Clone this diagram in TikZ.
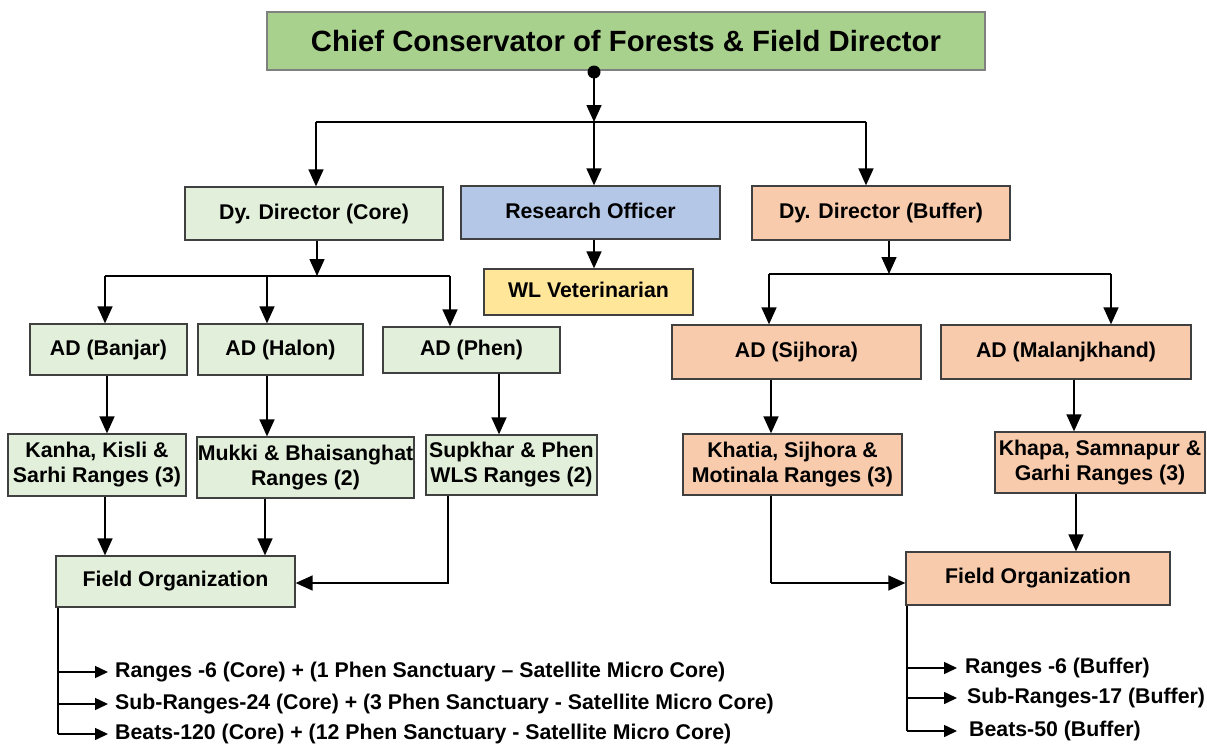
\documentclass[tikz,border=0pt]{standalone}
\usepackage{fontspec}
\setmainfont{Liberation Sans}
\usetikzlibrary{arrows.meta}
\definecolor{titlegreen}{HTML}{A9D18E}
\definecolor{lgreen}{HTML}{E2EFDA}
\definecolor{lblue}{HTML}{B4C7E7}
\definecolor{peach}{HTML}{F8CBAD}
\definecolor{lyellow}{HTML}{FFE699}
\definecolor{bordergray}{HTML}{404040}
\tikzset{
  box/.style={draw=bordergray, line width=1.3pt, inner sep=0pt, align=center,
    font=\fontsize{21.3}{25}\selectfont\bfseries},
  gbox/.style={box, fill=lgreen},
  pbox/.style={box, fill=peach},
  conn/.style={line width=1.5pt, black},
  arr/.style={conn, -{Triangle[length=17pt,width=15pt]}},
  sarr/.style={conn, -{Triangle[length=13pt,width=12pt]}},
  listtext/.style={anchor=west, inner sep=0pt, font=\fontsize{21.3}{25}\selectfont\bfseries}
}
\begin{document}
\begin{tikzpicture}[x=1pt,y=-1pt]
\useasboundingbox (0,0) rectangle (1207,744);
% boxes
\node[box, fill=titlegreen, draw=gray, minimum width=718pt, minimum height=58pt,
      font=\fontsize{29.3}{32}\selectfont\bfseries] (title) at (626,41) {Chief Conservator of Forests \& Field Director};
\node[gbox, minimum width=258pt, minimum height=53pt] (dyc) at (314,213.5) {Dy. Director (Core)};
\node[box, fill=lblue, minimum width=259pt, minimum height=53pt] (ro) at (590.5,212.5) {\raisebox{4pt}{Research Officer}};
\node[pbox, minimum width=258pt, minimum height=54pt] (dyb) at (881,213) {Dy. Director (Buffer)};
\node[box, fill=lyellow, minimum width=209pt, minimum height=46pt] (wl) at (588.5,292) {\raisebox{4pt}{WL Veterinarian}};
\node[gbox, minimum width=157pt, minimum height=51pt] (adb) at (108.5,349.5) {AD (Banjar)};
\node[gbox, minimum width=165pt, minimum height=51pt] (adh) at (280.5,349.5) {AD (Halon)};
\node[gbox, minimum width=177pt, minimum height=46pt] (adp) at (471.5,350) {AD (Phen)};
\node[gbox, minimum width=178pt, minimum height=62pt] (kanha) at (97,465) {Kanha, Kisli \&\\Sarhi Ranges (3)};
\node[gbox, minimum width=217pt, minimum height=61pt] (mukki) at (305.5,467.5) {Mukki \& Bhaisanghat\\Ranges (2)};
\node[gbox, minimum width=171pt, minimum height=60pt] (supk) at (511.5,465) {Supkhar \& Phen\\WLS Ranges (2)};
\node[gbox, minimum width=239pt, minimum height=51pt] (fol) at (175.5,581.5) {Field Organization};
\node[pbox, minimum width=249pt, minimum height=54pt] (ads) at (796.5,352) {AD (Sijhora)};
\node[pbox, minimum width=250pt, minimum height=54pt] (adm) at (1066,352) {AD (Malanjkhand)};
\node[pbox, minimum width=219pt, minimum height=61pt] (khatia) at (792.5,464.5) {Khatia, Sijhora \&\\Motinala Ranges (3)};
\node[pbox, minimum width=210pt, minimum height=61pt] (khapa) at (1100,462.5) {Khapa, Samnapur \&\\Garhi Ranges (3)};
\node[pbox, minimum width=264pt, minimum height=53pt] (for) at (1038,578.5) {\raisebox{4pt}{Field Organization}};
% top connectors
\node[circle, fill=black, inner sep=0pt, minimum size=13pt] (dot) at (594,72) {};
\coordinate (t1) at (316,122);
\coordinate (t2) at (594,122);
\coordinate (t3) at (866,122);
\draw[arr] (dot.center) -- (t2);
\draw[conn] (t1) -- (t3);
\draw[arr] (t1) -- (t1 |- dyc.north);
\draw[arr] (t2) -- (t2 |- ro.north);
\draw[arr] (t3) -- (t3 |- dyb.north);
\draw[arr] (ro.south -| t2) -- (t2 |- wl.north);
% core branch
\coordinate (c0) at (317,276);
\coordinate (c1) at (105,276);
\coordinate (c2) at (267,276);
\coordinate (c3) at (450,276);
\draw[arr] (dyc.south -| c0) -- (c0);
\draw[conn] (c1) -- (c3);
\draw[arr] (c1) -- (c1 |- adb.north);
\draw[arr] (c2) -- (c2 |- adh.north);
\draw[arr] (c3) -- (c3 |- adp.north);
\coordinate (x1) at (107,0);
\coordinate (x2) at (267,0);
\coordinate (x3) at (499,0);
\draw[arr] (adb.south -| x1) -- (kanha.north -| x1);
\draw[arr] (adh.south -| x2) -- (mukki.north -| x2);
\draw[arr] (adp.south -| x3) -- (supk.north -| x3);
\coordinate (y1) at (105,0);
\coordinate (y2) at (265,0);
\coordinate (y3) at (448,583);
\draw[arr] (kanha.south -| y1) -- (fol.north -| y1);
\draw[arr] (mukki.south -| y2) -- (fol.north -| y2);
\draw[arr] (supk.south -| y3) -- (y3) -- (fol.east |- y3);
% buffer branch
\coordinate (b0) at (889,274);
\coordinate (b1) at (769,274);
\coordinate (b2) at (1111,274);
\draw[arr] (dyb.south -| b0) -- (b0);
\draw[conn] (b1) -- (b2);
\draw[arr] (b1) -- (b1 |- ads.north);
\draw[arr] (b2) -- (b2 |- adm.north);
\coordinate (z1) at (771,0);
\coordinate (z2) at (1074,0);
\coordinate (z3) at (1076,0);
\coordinate (z4) at (771,583);
\draw[arr] (ads.south -| z1) -- (khatia.north -| z1);
\draw[arr] (adm.south -| z2) -- (khapa.north -| z2);
\draw[arr] (khapa.south -| z3) -- (for.north -| z3);
\draw[conn] (khatia.south -| z4) -- (z4);
\draw[arr] (z4) -- (for.west |- z4);
% left list
\node[listtext] (l1) at (115,672) {Ranges -6 (Core) + (1 Phen Sanctuary – Satellite Micro Core)};
\node[listtext] (l2) at (115,704) {Sub-Ranges-24 (Core) + (3 Phen Sanctuary - Satellite Micro Core)};
\node[listtext] (l3) at (115,734) {Beats-120 (Core) + (12 Phen Sanctuary - Satellite Micro Core)};
\coordinate (lv) at (58,0);
\draw[conn] (fol.south -| lv) -- (lv |- l3.west);
\draw[sarr] (lv |- l1.west) -- ([xshift=-7pt]l1.west);
\draw[sarr] (lv |- l2.west) -- ([xshift=-7pt]l2.west);
\draw[sarr] (lv |- l3.west) -- ([xshift=-7pt]l3.west);
% right list
\node[listtext] (r1) at (965,668) {Ranges -6 (Buffer)};
\node[listtext] (r2) at (967,698) {Sub-Ranges-17 (Buffer)};
\node[listtext] (r3) at (969,731) {Beats-50 (Buffer)};
\coordinate (rv) at (907,0);
\draw[conn] (for.south -| rv) -- (rv |- r3.west);
\draw[sarr] (rv |- r1.west) -- ([xshift=-8pt]r1.west);
\draw[sarr] (rv |- r2.west) -- ([xshift=-10pt]r2.west);
\draw[sarr] (rv |- r3.west) -- ([xshift=-12pt]r3.west);
\end{tikzpicture}
\end{document}
